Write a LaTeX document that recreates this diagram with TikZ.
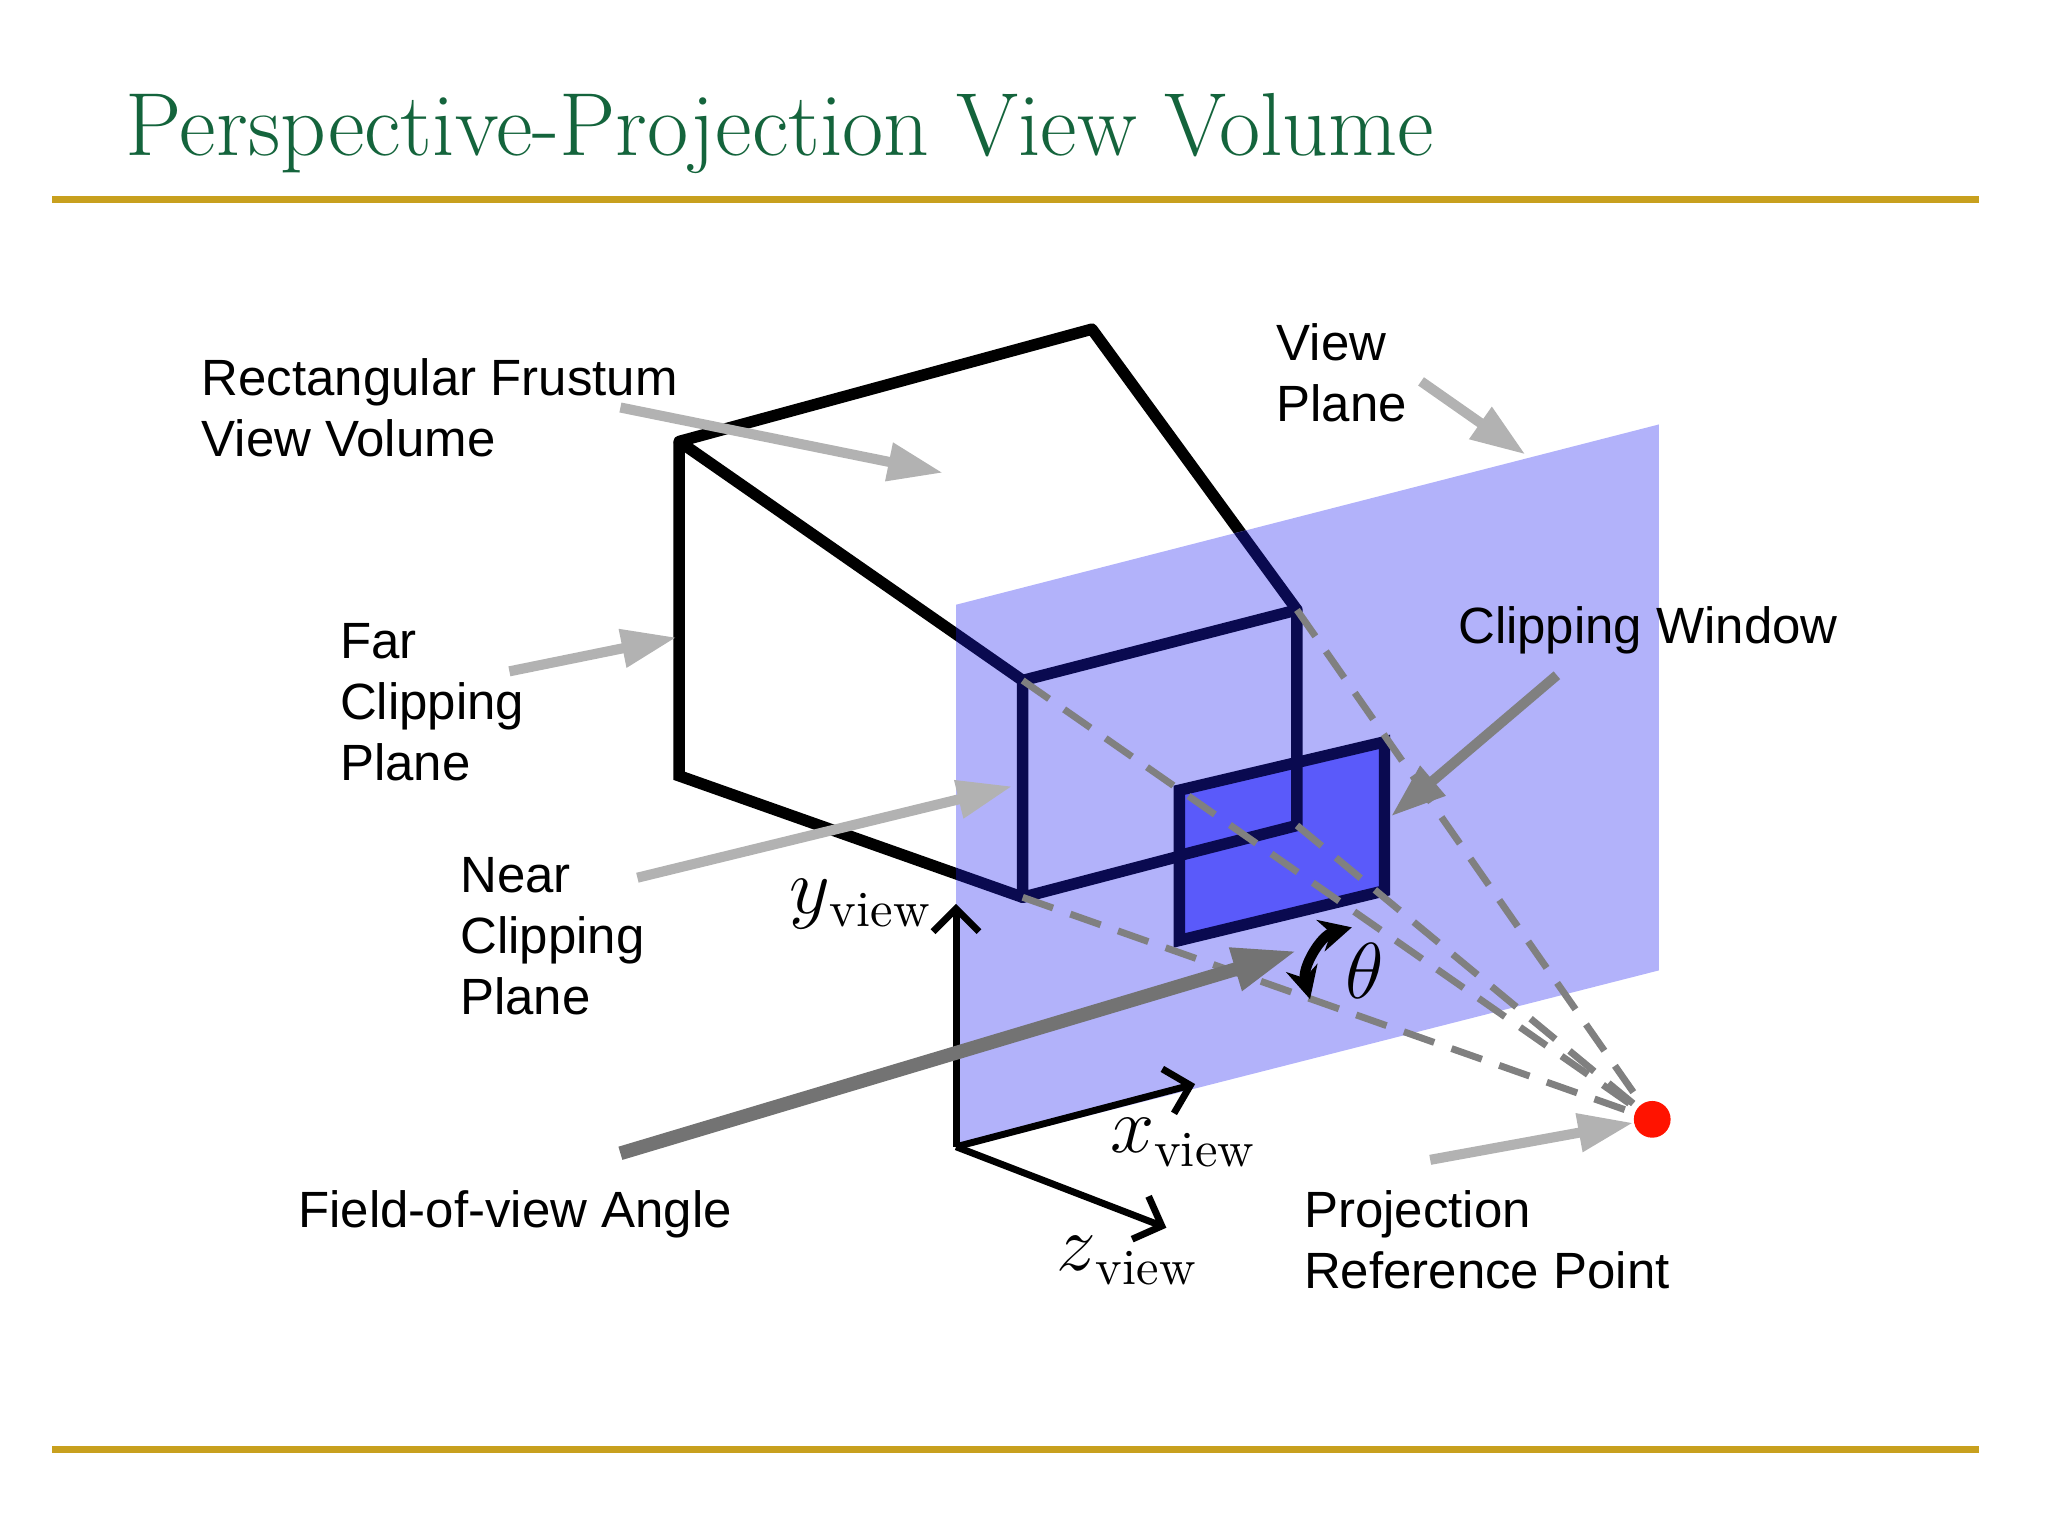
\documentclass[tikz,border=0pt]{standalone}
\usepackage{fontspec}
\setmainfont{Liberation Sans}
\newfontfamily\titlefont{Latin Modern Roman}
\usetikzlibrary{arrows.meta}
\definecolor{titlegreen}{RGB}{20,100,60}
\definecolor{rulegold}{RGB}{200,160,30}
\definecolor{planeblue}{RGB}{178,178,250}
\definecolor{winblue}{RGB}{90,90,250}
\definecolor{navy}{RGB}{10,10,80}
\newcommand{\vsub}[1]{$#1$\raisebox{-0.35ex}{\titlefont\fontsize{11}{12}\selectfont view}}
\tikzset{
  lbl/.style={font=\fontsize{11.1}{13.3}\selectfont, align=left},
  pointer/.style={-{Triangle[length=12pt,width=8pt]}, line width=2.2pt, gray!60},
  edge/.style={line width=2.5pt, black},
  ray/.style={dashed, dash pattern=on 7pt off 4pt, line width=1.5pt, gray},
  axis/.style={-{Straight Barb[length=5pt,width=10pt]}, line width=1.5pt},
}
\begin{document}
\begin{tikzpicture}[x=0.01cm,y=-0.01cm]
\useasboundingbox (0,0) rectangle (1568,1176);

% title and rules
\node[anchor=west, text=titlegreen, font=\titlefont\fontsize{19.5}{23}\selectfont] (title) at (84,102) {Perspective-Projection View Volume};
\draw[rulegold, line width=1.5pt] (40,153) -- (1515,153);
\draw[rulegold, line width=1.5pt] (40,1110) -- (1515,1110);

% frustum corners
\coordinate (fa) at (520,338);
\coordinate (fb) at (520,594);
\coordinate (fc) at (836,252);
\coordinate (na) at (783,521);
\coordinate (nb) at (993,467);
\coordinate (nc) at (993,632);
\coordinate (nd) at (783,687);
\draw[edge, line join=round] (na) -- (fa) -- (fc) -- (nb);
\draw[edge] (fa) -- (fb) -- (nd);

% view plane
\fill[planeblue] (732,463) -- (1270,325) -- (1270,743) -- (732,880) -- cycle;

% edges seen through the plane
\begin{scope}
  \clip (732,463) -- (1270,325) -- (1270,743) -- (732,880) -- cycle;
  \draw[line width=2.5pt, navy] (fa) -- (na);
  \draw[line width=2.5pt, navy] (fb) -- (nd);
  \draw[line width=2.5pt, navy] (fc) -- (nb);
\end{scope}
\draw[line width=2.5pt, navy, line join=round] (na) -- (nb) -- (nc) -- (nd) -- cycle;

% clipping window
\draw[fill=winblue, draw=navy, line width=2.5pt] (903,605) -- (1060,568) -- (1060,682) -- (903,720) -- cycle;
\draw[line width=2.5pt, navy] (993,584) -- (nc) -- (903,655);

% projection reference point and rays
\coordinate (prpc) at (1265,857);
\foreach \c in {na,nb,nc,nd}
  \draw[ray] (\c) -- (prpc);
\node[circle, fill=red!85!orange, inner sep=0pt, minimum size=8pt] (prp) at (prpc) {};

% axes
\coordinate (o) at (732,878);
\coordinate (ytip) at (732,692);
\coordinate (xtip) at (915,830);
\coordinate (ztip) at (893,940);
\draw[axis] (o) -- (ytip);
\draw[axis] (o) -- (xtip);
\draw[axis] (o) -- (ztip);
\node[font=\fontsize{16}{18}\selectfont] (ylab) at (658,692) {\vsub{y}};
\node[font=\fontsize{16}{18}\selectfont] (xlab) at (905,875) {\vsub{x}};
\node[font=\fontsize{16}{18}\selectfont] (zlab) at (862,965) {\vsub{z}};

% field-of-view angle
\coordinate (thA) at (1035,710);
\coordinate (thB) at (1003,765);
\draw[{Stealth[length=7pt,width=7pt]}-{Stealth[length=7pt,width=7pt]}, line width=2.2pt] (thA) to[bend right=45] (thB);
\node[font=\fontsize{19}{22}\selectfont] (theta) at (1045,743) {$\theta$};

% labels
\node[lbl, anchor=north west] (frustum) at (142,262) {Rectangular Frustum\\View Volume};
\node[lbl, anchor=north west] (vplane) at (965,235) {View\\Plane};
\node[lbl, anchor=north west] (far) at (248,465) {Far\\Clipping\\Plane};
\node[lbl, anchor=north west] (near) at (340,644) {Near\\Clipping\\Plane};
\node[lbl, anchor=north west] (cwin) at (1104,452) {Clipping Window};
\node[lbl, anchor=north west] (fov) at (216,899) {Field-of-view Angle};
\node[lbl, anchor=north west] (prplab) at (986,899) {Projection\\Reference Point};

% pointers
\coordinate (frustumtip) at (722,362);
\coordinate (vplanetip) at (1168,348);
\coordinate (fartip) at (518,488);
\coordinate (neartip) at (775,602);
\coordinate (cwintip) at (1065,625);
\draw[pointer] (475,312) -- (frustumtip);
\draw[pointer] (1088,292) -- (vplanetip);
\draw[pointer] (390,514) -- (fartip);
\draw[pointer] (488,672) -- (neartip);
\draw[pointer, gray] (1192,517) -- (cwintip);
\draw[pointer] (1095,888) -- (prp);
\draw[-{Triangle[length=14pt,width=9pt]}, line width=3pt, gray!90!black] (475,883) -- (993,728);
\end{tikzpicture}
\end{document}
